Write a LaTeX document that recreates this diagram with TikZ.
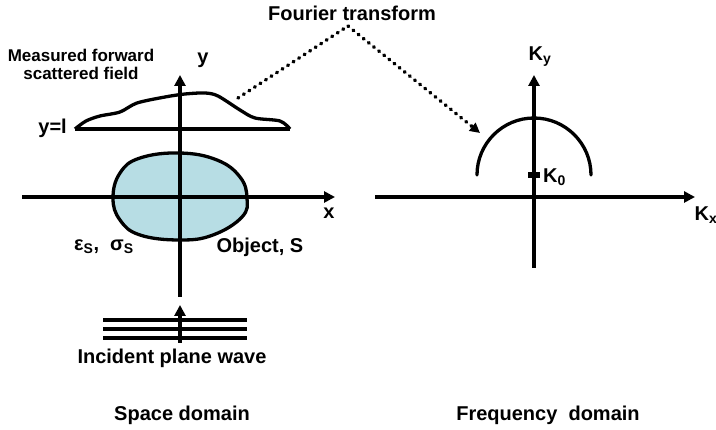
\documentclass[tikz,border=0pt]{standalone}
\usepackage{fontspec}
\setmainfont{Liberation Sans}
\usetikzlibrary{arrows.meta, positioning}
\definecolor{objBlue}{RGB}{183,221,228}

\begin{document}
\begin{tikzpicture}[
    x=1pt, y=-1pt,
    axis/.style={line width=3.3pt, -{Triangle[length=11pt,width=11pt]}},
    edge/.style={line width=3.3pt},
    lbl/.style={font=\bfseries\fontsize{20}{22}\selectfont, inner sep=1pt},
    ftline/.style={line width=3.6pt, line cap=round, dash pattern=on 0.8pt off 5.8pt},
    >=Latex
]
\useasboundingbox (0,0) rectangle (716,430);

% space domain
\coordinate (xl) at (22,197);
\coordinate (xr) at (335,197);
\coordinate (yb) at (180,297);
\coordinate (yt) at (180,75);
\draw[edge, fill=objBlue] plot[smooth cycle, tension=0.7] coordinates {
    (180,153) (217,160) (240,177) (247,198) (242,217) (213,235)
    (180,240) (140,235) (120,220) (113,198) (120,173) (140,158)};
\draw[axis] (xl) -- (xr);
\draw[axis] (yb) -- (yt);

\draw[edge, line join=round] (75,129) -- (290,129);
\draw[edge, line join=round] plot[smooth, tension=0.5] coordinates {
    (75,129) (86,121) (100,116) (120,112) (137,103) (165,97)
    (185,94) (205,93) (218,96) (240,110) (255,118) (280,121) (290,129)};

\foreach \yy in {320,329,338}
    \draw[edge] (103,\yy) -- (247,\yy);
\coordinate (ws) at (180,343);
\coordinate (we) at (180,305);
\draw[axis] (ws) -- (we);

\node[font=\bfseries\fontsize{17}{18}\selectfont, align=center] (meas) at (81,64) {Measured forward\\scattered field};
\node[lbl] (ylab) at (203,60) {y};
\node[lbl, anchor=east] (yl) at (68,128) {y=l};
\node[lbl] (eps) at (104,247) {ε\textsubscript{S},\ \ σ\textsubscript{S}};
\node[lbl] (obj) at (260,247) {Object, S};
\node[lbl] (xlab) at (329,213) {x};
\node[lbl] (inc) at (172,358) {Incident plane wave};
\node[lbl] (sd) at (182,415) {Space domain};

% frequency domain
\coordinate (kxl) at (375,197);
\coordinate (kxr) at (695,197);
\coordinate (kyb) at (534,268);
\coordinate (kyt) at (534,75);
\coordinate (k0) at (534,175);
\draw[axis] (kxl) -- (kxr);
\draw[axis] (kyb) -- (kyt);
\draw[edge, line cap=round] (k0) ++(-57,0) arc[start angle=180, end angle=360, radius=57];
\node[fill, minimum width=12pt, minimum height=6pt, inner sep=0pt] (tick) at (k0) {};
\node[lbl, anchor=west] (k0lab) at (542,177) {K\textsubscript{0}};
\node[lbl] (kylab) at (540,57) {K\textsubscript{y}};
\node[lbl] (kxlab) at (706,215) {K\textsubscript{x}};
\node[lbl] (fd) at (548,415) {Frequency\ \ domain};

% fourier transform
\node[lbl] (ft) at (352,13) {Fourier transform};
\coordinate (fs) at (238,98);
\coordinate (fa) at (348,26);
\coordinate (fe) at (480,133);
\draw[ftline] (fs) -- (fa);
\draw[ftline, -{Triangle[length=10pt,width=10pt]}] (fa) -- (fe);
\end{tikzpicture}
\end{document}
